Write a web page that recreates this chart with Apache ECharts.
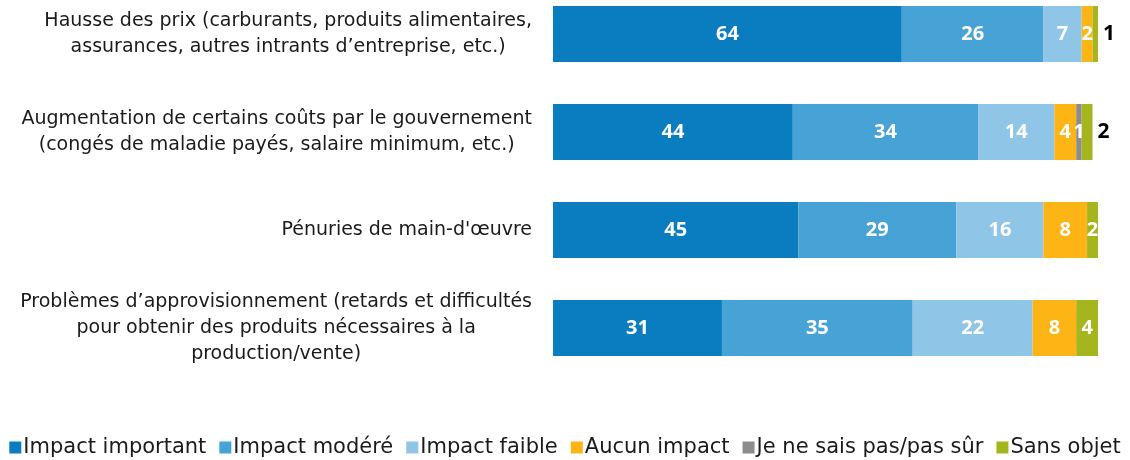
<!DOCTYPE html>
<html>
<head>
<meta charset="utf-8">
<script src="https://cdn.jsdelivr.net/npm/echarts@6/dist/echarts.min.js"></script>
<style>
  html, body { margin: 0; padding: 0; background: #fff; overflow: hidden; }
  #chart { width: 1130px; height: 475px; margin-top: -15px; }
</style>
</head>
<body>
<div id="chart"></div>
<script>
// categories (top to bottom)
var categories = [
    'Hausse des prix (carburants, produits alimentaires,\nassurances, autres intrants d\u2019entreprise, etc.)',
    'Augmentation de certains co\u00fbts par le gouvernement\n(cong\u00e9s de maladie pay\u00e9s, salaire minimum, etc.)',
    'P\u00e9nuries de main-d\'\u0153uvre',
    'Probl\u00e8mes d\u2019approvisionnement (retards et difficult\u00e9s\npour obtenir des produits n\u00e9cessaires \u00e0 la\nproduction/vente)'
];

var seriesNames = ['Impact important', 'Impact mod\u00e9r\u00e9', 'Impact faible', 'Aucun impact', 'Je ne sais pas/pas s\u00fbr', 'Sans objet'];
var seriesColors = ['#0a7dc1', '#47a3d6', '#8fc5e6', '#fcb514', '#8c8c8c', '#a5b51e'];

// values per series
var impactImportant = [64, 44, 45, 31];
var impactModere    = [26, 34, 29, 35];
var impactFaible    = [7, 14, 16, 22];
var aucunImpact     = [2, 4, 8, 8];
var jeNeSaisPas     = [0, 1, 0, 0];
var sansObjet       = [1, 2, 2, 4];
// bars where the "Sans objet" label sits outside, in black
var outsideLabel    = [true, true, false, false];

var allValues = [impactImportant, impactModere, impactFaible, aucunImpact, jeNeSaisPas, sansObjet];

var valueLabel = {
    show: true,
    color: '#fff',
    fontFamily: 'Open Sans',
    fontWeight: 'bold',
    fontSize: 20,
    formatter: function (p) { return p.value ? p.value : ''; }
};

var series = allValues.map(function (vals, i) {
    var data = vals.map(function (v, j) {
        if (i === 5 && outsideLabel[j]) {
            return {
                value: v,
                label: { position: 'right', color: '#000', distance: 5, fontSize: 21 }
            };
        }
        return v;
    });
    return {
        name: seriesNames[i],
        type: 'bar',
        stack: 'total',
        barWidth: 56,
        itemStyle: { color: seriesColors[i] },
        label: valueLabel,
        data: data
    };
});

var chart = echarts.init(document.getElementById('chart'));
chart.setOption({
    animation: false,
    grid: { left: 553, right: 32, top: 0, height: 392, containLabel: false },
    xAxis: {
        type: 'value',
        min: 0,
        max: 100,
        show: false
    },
    yAxis: {
        type: 'category',
        inverse: true,
        data: categories,
        axisLine: { show: false },
        axisTick: { show: false },
        axisLabel: {
            margin: 21,
            align: 'right',
            // centre each line inside the right-anchored block
            formatter: function (v) {
                return v.split('\n').map(function (l) { return '{c|' + l + '}'; }).join('\n');
            },
            rich: {
                c: {
                    align: 'center',
                    color: '#1a1a1a',
                    fontFamily: 'DejaVu Sans',
                    fontSize: 19,
                    lineHeight: 26
                }
            }
        }
    },
    legend: {
        bottom: -3,
        left: 'center',
        itemWidth: 12,
        itemHeight: 12,
        itemGap: 13,
        icon: 'rect',
        textStyle: { fontFamily: 'DejaVu Sans', fontSize: 21, color: '#1a1a1a', padding: [0, 0, 0, -3] },
        data: seriesNames
    },
    series: series
});
</script>
</body>
</html>
